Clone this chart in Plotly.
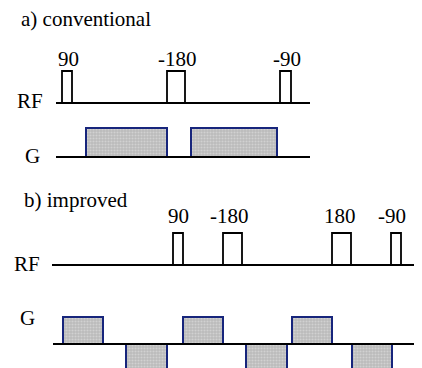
import plotly.graph_objects as go

# ---- data (diagram coordinates, pixel-like units, y down) ----
# a) conventional
a_rf_baseline_y = 103
a_rf_x = [56, 310]
a_rf_start = [62, 167, 280]
a_rf_end = [72, 185, 291]
a_rf_top = [71, 71, 71]
a_rf_labels = ["90", "-180", "-90"]
a_g_baseline_y = 157
a_g_x = [56, 310]
a_g_start = [86, 191]
a_g_end = [167, 277]
a_g_top = [128, 128]

# b) improved
b_rf_baseline_y = 265
b_rf_x = [52, 422]
b_rf_start = [173, 223, 332, 391]
b_rf_end = [183, 242, 351, 401]
b_rf_top = [233, 233, 233, 233]
b_rf_labels = ["90", "-180", "180", "-90"]
b_label_x = [178, 229, 340, 392]
b_g_baseline_y = 344
b_g_x = [53, 422]
b_g_start = [63, 126, 183, 246, 292, 352]
b_g_end = [103, 167, 223, 287, 332, 392]
b_g_edge = [317, 372, 317, 372, 317, 372]

FONT = "Liberation Serif, Times New Roman, Times, serif"
FS = 21
BLUE = "#17257c"
OFF = 8  # page body margin

fig = go.Figure()

def hline(xs, y):
    fig.add_trace(go.Scatter(x=xs, y=[y, y], mode="lines",
                             line=dict(color="black", width=2.2),
                             hoverinfo="skip", showlegend=False))

def pulse(x0, x1, top, base):
    fig.add_trace(go.Scatter(x=[x0, x0, x1, x1], y=[base, top, top, base],
                             mode="lines", line=dict(color="black", width=1.8),
                             hoverinfo="skip", showlegend=False))

def block(x0, x1, edge, base):
    fig.add_trace(go.Scatter(x=[x0, x0, x1, x1, x0], y=[base, edge, edge, base, base],
                             mode="lines", fill="toself",
                             fillcolor="#c0c0c0",
                             fillpattern=dict(shape=".", fgcolor="#e8e8e8",
                                              bgcolor="#bababa", size=3, solidity=0.4),
                             line=dict(color=BLUE, width=2),
                             hoverinfo="skip", showlegend=False))

for x0, x1, t in zip(a_g_start, a_g_end, a_g_top):
    block(x0, x1, t, a_g_baseline_y)
for x0, x1, t in zip(a_rf_start, a_rf_end, a_rf_top):
    pulse(x0, x1, t, a_rf_baseline_y)
hline(a_rf_x, a_rf_baseline_y)
hline(a_g_x, a_g_baseline_y)

for x0, x1, e in zip(b_g_start, b_g_end, b_g_edge):
    block(x0, x1, e, b_g_baseline_y)
for x0, x1, t in zip(b_rf_start, b_rf_end, b_rf_top):
    pulse(x0, x1, t, b_rf_baseline_y)
hline(b_rf_x, b_rf_baseline_y)
hline(b_g_x, b_g_baseline_y)

ann = []
def text(x, y, s, xanchor="center"):
    ann.append(dict(x=x, y=y, xref="x", yref="y", text=s, showarrow=False,
                    xanchor=xanchor, yanchor="middle",
                    font=dict(family=FONT, size=FS, color="black")))

text(19, 19, "a) conventional", "left")
for x0, x1, s in zip(a_rf_start, a_rf_end, a_rf_labels):
    text((x0 + x1) / 2 + 1, 59, s)
text(30, 101, "RF")
text(32, 156, "G")

text(22, 200, "b) improved", "left")
for x, s in zip(b_label_x, b_rf_labels):
    text(x, 216, s)
text(27, 264, "RF")
text(27, 318, "G")

fig.update_layout(
    width=422 - OFF, height=368 - OFF,
    margin=dict(l=0, r=0, t=0, b=0),
    paper_bgcolor="white", plot_bgcolor="white",
    font=dict(family=FONT),
    xaxis=dict(range=[OFF, 422], visible=False, fixedrange=True),
    yaxis=dict(range=[368, OFF], visible=False, fixedrange=True),
    annotations=ann,
    showlegend=False,
)
fig.write_html("out.html", config=dict(displayModeBar=False))
